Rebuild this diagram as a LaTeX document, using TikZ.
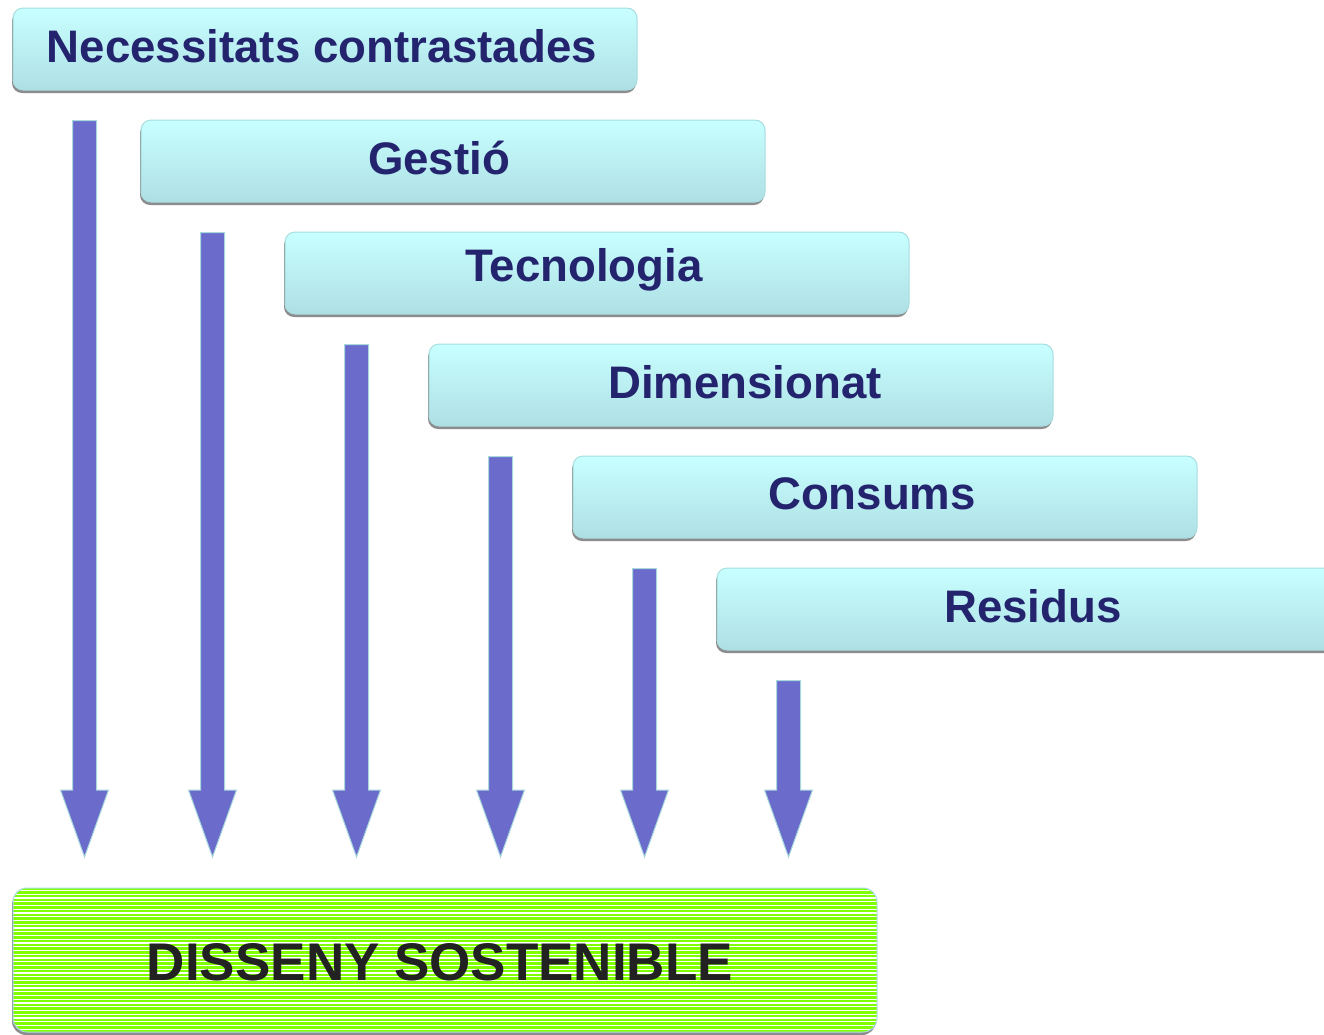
\documentclass[tikz,border=0pt]{standalone}
\usepackage{fontspec}
\setmainfont{Liberation Sans}
\usetikzlibrary{calc}
\definecolor{navy}{HTML}{23236E}
\definecolor{cyantop}{HTML}{C8FFFF}
\definecolor{cyanbot}{HTML}{AEDFE4}
\definecolor{cyanline}{HTML}{A8DCE0}
\definecolor{arrowfill}{HTML}{6B6BCC}
\definecolor{arrowline}{HTML}{A8D8DC}
\definecolor{grn}{HTML}{80FF00}
\definecolor{dtext}{HTML}{222222}
\tikzset{
  stagebox/.style={rectangle, rounded corners=10pt, minimum width=624pt, minimum height=82pt,
    top color=cyantop, bottom color=cyanbot, draw=cyanline, line width=1pt, inner sep=0pt},
  stagetext/.style={font=\fontsize{45.6}{50}\selectfont\bfseries, text=navy},
  shadowbox/.style={fill=gray!90, rounded corners=10pt},
  blockarrow/.style={fill=arrowfill, draw=arrowline, line width=1pt, line join=miter},
  resultbox/.style={rectangle, rounded corners=14pt, minimum width=864pt, minimum height=144pt, inner sep=0pt}
}
\begin{document}
\begin{tikzpicture}[x=1pt,y=-1pt]
\useasboundingbox (0,0) rectangle (1324,1034);
% shadows
\foreach \i/\l in {0/13,1/141,2/285,3/429,4/573,5/717}{
  \fill[shadowbox] (\l-1, 8+112*\i+3) rectangle ++(624,82);
}
\node[stagebox] (b1) at (325,49) {};
\node[stagebox] (b2) at (453,161) {};
\node[stagebox] (b3) at (597,273) {};
\node[stagebox] (b4) at (741,385) {};
\node[stagebox] (b5) at (885,497) {};
\node[stagebox] (b6) at (1029,609) {};
\node[stagetext] (t1) at (322,46) {Necessitats contrastades};
\node[stagetext] (t2) at (439,158) {Gestió};
\node[stagetext] (t3) at (584,270) {Tecnologia};
\node[stagetext] (t4) at (745,382) {Dimensionat};
\node[stagetext] (t5) at (872,494) {Consums};
\node[stagetext] (t6) at (1033,606) {Residus};
% arrows
\foreach \i in {1,...,6}{
  \path let \p1=(b\i.south west) in coordinate (s\i) at (\x1+72, \y1-30);
}
\foreach \i in {1,...,6}{
  \draw[blockarrow] let \p1=(s\i) in
    (\x1-12,\y1) -- (\x1+12,\y1) -- (\x1+12,790) -- (\x1+24,790) -- (\x1,857)
    -- (\x1-24,790) -- (\x1-12,790) -- cycle;
}
% result box
\fill[gray!90, rounded corners=14pt] (12,891) rectangle ++(864,144);
\node[resultbox] (r) at (445,960) {};
\begin{scope}
  \clip[rounded corners=14pt] (13,888) rectangle (877,1032);
  \fill[grn] (13,888) rectangle (877,1032);
  \foreach \k in {0,...,38}{
    \draw[white, line width=1.2pt] (13,890.5+3.75*\k) -- (877,890.5+3.75*\k);
  }
\end{scope}
\draw[cyanline, line width=1pt, rounded corners=14pt] (13,888) rectangle (877,1032);
\node[font=\fontsize{53}{56}\selectfont\bfseries, text=dtext] (rt) at (440,962) {DISSENY SOSTENIBLE};
\end{tikzpicture}
\end{document}
